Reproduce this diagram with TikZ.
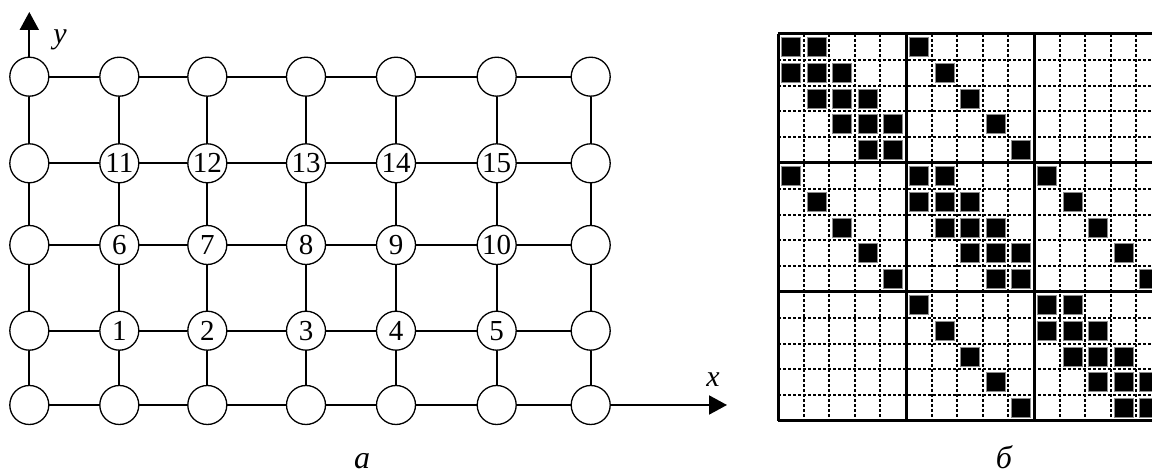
\documentclass[tikz,border=0pt]{standalone}
\usepackage{fontspec}
\setmainfont{Liberation Serif}
\usetikzlibrary{arrows.meta}
\begin{document}
\begin{tikzpicture}[x=0.5pt,y=-0.5pt,
  vert/.style={circle,draw,line width=0.65pt,minimum size=19.5pt,inner sep=0pt,fill=white,font=\fontsize{14.5}{16}\selectfont},
  edge/.style={line width=1pt},
  axis/.style={line width=1pt,-{Triangle[length=9pt,width=9.5pt]}},
  axlab/.style={font=\fontsize{15}{17}\selectfont\itshape},
  caplab/.style={font=\fontsize{16}{18}\selectfont\itshape,anchor=base,text depth=0pt,inner sep=1pt},
  dashline/.style={line width=1pt,dash pattern=on 1.65pt off 0.85pt},
  thickline/.style={line width=1.5pt},
  filled/.style={fill=black,draw=black!45,line width=0.3pt}]
\useasboundingbox (0,0) rectangle (1152,475);
\fill[white] (0,0) rectangle (1152,475);
% ---- graph (a)
\def\colx{{29.3,119.3,207.3,306,396,496.7,590.7}}
\def\rowy{{76.7,163.3,245,330.7,405}}
\foreach \i in {0,...,6}{
  \foreach \j in {0,...,4}{
    \pgfmathsetmacro{\xx}{\colx[\i]}
    \pgfmathsetmacro{\yy}{\rowy[\j]}
    \pgfmathtruncatemacro{\num}{ (\i>=1 && \i<=5 && \j>=1 && \j<=3) ? (3-\j)*5+\i : 0 }
    \ifnum\num>0
      \node[vert] (v\i-\j) at (\xx,\yy) {\num};
    \else
      \node[vert] (v\i-\j) at (\xx,\yy) {};
    \fi
  }
}
\foreach \i [evaluate=\i as \ni using int(\i+1)] in {0,...,5}{
  \foreach \j in {0,...,4}{
    \draw[edge] (v\i-\j) -- (v\ni-\j);
  }
}
\foreach \i in {0,...,6}{
  \foreach \j [evaluate=\j as \nj using int(\j+1)] in {0,...,3}{
    \draw[edge] (v\i-\j) -- (v\i-\nj);
  }
}
\coordinate (ytip) at (29.3,12);
\coordinate (xtip) at (727,405);
\draw[axis] (v0-0) -- (ytip);
\draw[axis] (v6-4) -- (xtip);
\node[axlab] (ylab) at (60,40) {y};
\node[axlab] (xlab) at (713,380) {x};
\node[caplab] (capa) at (362,469) {а};
% ---- matrix (b)
\begin{scope}
\clip (0,0) rectangle (1152,475);
\def\cw{25.6}
\def\ch{25.8}
\def\ox{778}
\def\oy{34}
\fill[white] (\ox,\oy) rectangle (\ox+15*\cw,\oy+15*\ch);
\foreach \k in {1,2,3,4,6,7,8,9,11,12,13,14}{
  \draw[dashline] (\ox+\k*\cw,\oy) -- (\ox+\k*\cw,\oy+15*\ch);
  \draw[dashline] (\ox,\oy+\k*\ch) -- (\ox+15*\cw,\oy+\k*\ch);
}
\foreach \r in {0,...,14}{
  \foreach \c in {0,...,14}{
    \pgfmathtruncatemacro{\br}{int(\r/5)}
    \pgfmathtruncatemacro{\bc}{int(\c/5)}
    \pgfmathtruncatemacro{\d}{abs(\r-\c)}
    \pgfmathtruncatemacro{\on}{ ((\br==\bc && \d<=1) || \d==5) ? 1 : 0 }
    \ifnum\on=1
      \filldraw[filled] (\ox+\c*\cw+3.3,\oy+\r*\ch+3.4) rectangle ++(19,19);
    \fi
  }
}
\foreach \k in {0,5,10,15}{
  \draw[thickline] (\ox+\k*\cw,\oy) -- (\ox+\k*\cw,\oy+15*\ch);
  \draw[thickline] (\ox,\oy+\k*\ch) -- (\ox+15*\cw,\oy+\k*\ch);
}
\end{scope}
\node[caplab] (capb) at (1004,469) {б};
\end{tikzpicture}
\end{document}
